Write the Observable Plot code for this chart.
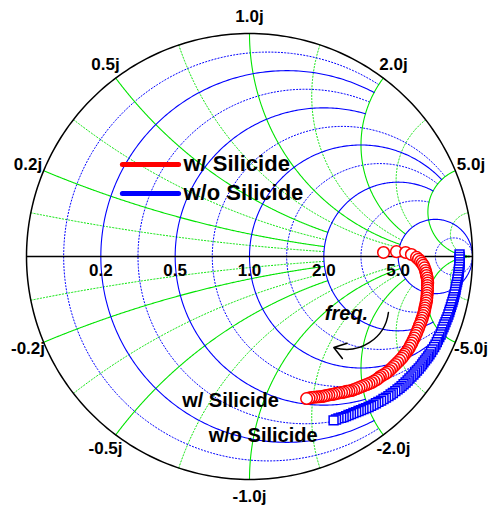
<!DOCTYPE html>
<html>
<head>
<meta charset="utf-8">
<script src="https://cdn.jsdelivr.net/npm/d3@7"></script>
<script src="https://cdn.jsdelivr.net/npm/@observablehq/plot@0.6"></script>
<style>
  html, body { margin: 0; padding: 0; background: #fff; }
  #chart svg { display: block; }
</style>
</head>
<body>
<div id="chart"></div>
<script>
// ---- Smith chart grid definitions ----
const rSolid = [0.2, 0.5, 1, 2, 5];
const rSolidStop = [2, 2, 5, 5, Infinity];           // |x| where the r-circle stops
const rDotted = [1/11, 1/3, 0.714, 1.4, 3, 11];
const rDottedStop = [2, 2, 5, 5, 5, Infinity];
const xSolid = [0.2, 0.5, 1, 2, 5];
const xSolidStop = [2, 2, 5, 5, Infinity];           // r where the x-arc stops
const xDotted = [0.099, 0.343, 0.72, 1.387, 2.92, 10.1];
const xDottedStop = [2, 2, 5, 5, 5, Infinity];

const rTickValues = [0.2, 0.5, 1, 2, 5];
const rTickLabels = ["0.2", "0.5", "1.0", "2.0", "5.0"];
const xTickValues = [0.2, 0.5, 1, 2, 5, -0.2, -0.5, -1, -2, -5];
const xTickLabels = ["0.2j", "0.5j", "1.0j", "2.0j", "5.0j", "-0.2j", "-0.5j", "-1.0j", "-2.0j", "-5.0j"];

// ---- Data: reflection coefficient (Re, Im) ----
const seriesNames = ["w/ Silicide", "w/o Silicide"];
const redRe = [0.601,0.659,0.700,0.726,
  0.749,0.758,0.767,0.774,0.780,0.785,0.789,0.792,0.794,0.797,0.798,0.799,0.798,0.798,0.798,0.797,0.796,0.795,0.794,0.792,
  0.789,0.787,0.785,0.782,0.778,0.775,0.771,0.767,0.762,0.758,0.753,0.749,0.744,0.739,0.733,0.728,0.722,0.716,0.709,0.702,
  0.695,0.689,0.682,0.673,0.664,0.655,0.646,0.637,0.628,0.619,0.610,0.598,0.587,0.579,0.570,0.558,0.547,0.536,0.525,0.513,
  0.502,0.491,0.480,0.468,0.457,0.446,0.435,0.424,0.413,0.401,0.390,0.379,0.368,0.356,0.345,0.334,0.323,0.311,0.300,0.289,
  0.278,0.267,0.256];
const redIm = [0.018,0.022,0.018,0.009,
  -0.004,-0.012,-0.022,-0.031,-0.040,-0.051,-0.063,-0.074,-0.085,-0.097,-0.108,-0.119,-0.130,-0.141,-0.152,-0.164,-0.175,-0.186,-0.197,-0.209,
  -0.220,-0.231,-0.242,-0.254,-0.265,-0.276,-0.287,-0.298,-0.309,-0.321,-0.332,-0.343,-0.354,-0.366,-0.377,-0.388,-0.399,-0.411,-0.422,-0.431,
  -0.439,-0.448,-0.457,-0.466,-0.475,-0.484,-0.493,-0.502,-0.511,-0.518,-0.525,-0.532,-0.538,-0.545,-0.552,-0.559,-0.565,-0.570,-0.574,-0.579,
  -0.583,-0.588,-0.592,-0.597,-0.601,-0.603,-0.605,-0.608,-0.610,-0.612,-0.614,-0.617,-0.619,-0.621,-0.623,-0.626,-0.628,-0.629,-0.630,-0.631,
  -0.632,-0.635,-0.637];
const blueRe = [0.942,0.942,0.942,0.942,0.942,0.941,0.939,0.938,0.937,0.935,0.933,0.931,0.928,0.926,0.924,0.922,0.919,0.916,0.913,0.910,
  0.906,0.903,0.899,0.896,0.892,0.888,0.883,0.879,0.874,0.870,0.865,0.861,0.857,0.851,0.845,0.840,0.834,0.828,0.821,0.814,
  0.807,0.801,0.794,0.787,0.780,0.774,0.767,0.759,0.751,0.743,0.735,0.726,0.717,0.709,0.700,0.691,0.682,0.673,0.664,0.654,
  0.643,0.633,0.623,0.612,0.601,0.590,0.578,0.567,0.556,0.545,0.534,0.523,0.511,0.500,0.489,0.478,0.466,0.455,0.444,0.433,
  0.422,0.411,0.399,0.388,0.377];
const blueIm = [0.009,-0.002,-0.013,-0.025,-0.036,-0.047,-0.058,-0.070,-0.081,-0.092,-0.103,-0.115,-0.126,-0.137,-0.148,-0.159,-0.170,-0.182,-0.193,-0.204,
  -0.215,-0.227,-0.238,-0.249,-0.260,-0.272,-0.283,-0.294,-0.305,-0.316,-0.327,-0.339,-0.350,-0.361,-0.372,-0.384,-0.395,-0.406,-0.417,-0.428,
  -0.439,-0.448,-0.457,-0.466,-0.475,-0.484,-0.493,-0.502,-0.511,-0.520,-0.529,-0.538,-0.547,-0.556,-0.565,-0.573,-0.581,-0.589,-0.596,-0.604,
  -0.612,-0.619,-0.626,-0.633,-0.639,-0.646,-0.652,-0.658,-0.664,-0.670,-0.675,-0.680,-0.684,-0.689,-0.693,-0.698,-0.702,-0.707,-0.711,-0.716,
  -0.720,-0.723,-0.726,-0.731,-0.735];

// ---- Annotations (anchored in reflection-coefficient units) ----
const notes = [
  {text: "w/ Silicide", re: -0.085, im: -0.646},
  {text: "w/o Silicide", re: 0.061, im: -0.803}
];
const freqNote = {text: "freq.", re: 0.435, im: -0.256};
const freqArrow = {re1: 0.623, im1: -0.251, re2: 0.378, im2: -0.408};
const legendItems = [
  {name: seriesNames[0], color: "#ff0000", re1: -0.570, re2: -0.318, im: 0.413, tre: -0.296},
  {name: seriesNames[1], color: "#0000ff", re1: -0.570, re2: -0.318, im: 0.283, tre: -0.296}
];

// ---- geometry helpers ----
function gamma(r, x) {
  const d = (r + 1) ** 2 + x * x;
  return [(r * r - 1 + x * x) / d, 2 * x / d];
}
function rArc(r, X, id) {
  const c = r / (1 + r), a = 1 / (1 + r);
  let phi = 0;
  if (isFinite(X)) { const g = gamma(r, X); phi = Math.atan2(g[1], g[0] - c); }
  const pts = [], N = 300;
  for (let i = 0; i <= N; i++) {
    const t = phi + (2 * Math.PI - 2 * phi) * i / N;
    pts.push({gx: c + a * Math.cos(t), gy: a * Math.sin(t), id});
  }
  return pts;
}
function xArc(x, R, id) {
  const cy = 1 / x, a = Math.abs(1 / x);
  const g0 = gamma(0, x);
  const g1 = isFinite(R) ? gamma(R, x) : [1, 0];
  let a0 = Math.atan2(g0[1] - cy, g0[0] - 1), a1 = Math.atan2(g1[1] - cy, g1[0] - 1);
  while (a1 - a0 > Math.PI) a1 -= 2 * Math.PI;
  while (a1 - a0 < -Math.PI) a1 += 2 * Math.PI;
  const pts = [], N = 300;
  for (let i = 0; i <= N; i++) {
    const t = a0 + (a1 - a0) * i / N;
    pts.push({gx: 1 + a * Math.cos(t), gy: cy + a * Math.sin(t), id});
  }
  return pts;
}

const rSolidPts = rSolid.flatMap((r, i) => rArc(r, rSolidStop[i], "rs" + i));
const rDottedPts = rDotted.flatMap((r, i) => rArc(r, rDottedStop[i], "rd" + i));
const xSolidPts = xSolid.flatMap((x, i) => [...xArc(x, xSolidStop[i], "xs" + i), ...xArc(-x, xSolidStop[i], "xsn" + i)]);
const xDottedPts = xDotted.flatMap((x, i) => [...xArc(x, xDottedStop[i], "xd" + i), ...xArc(-x, xDottedStop[i], "xdn" + i)]);
const outer = rArc(0, Infinity, "outer");

const rTicks = rTickValues.map((r, i) => ({gx: (r - 1) / (r + 1), gy: 0, label: rTickLabels[i]}));
const labelRadius = 1.076;
const xTicks = xTickValues.map((x, i) => {
  const th = Math.sign(x) * (Math.PI - 2 * Math.atan(Math.abs(x)));
  return {gx: labelRadius * Math.cos(th), gy: labelRadius * Math.sin(th), label: xTickLabels[i]};
});

const redData = redRe.map((v, i) => ({re: v, im: redIm[i]}));
const blueData = blueRe.map((v, i) => ({re: v, im: blueIm[i]}));

const FONT = "Arial, 'Liberation Sans', Helvetica, sans-serif";
const GREEN = "#00e400";

const chart = Plot.plot({
  width: 491,
  height: 506,
  marginLeft: 26,
  marginRight: 19,
  marginTop: 33,
  marginBottom: 27,
  x: {domain: [-1, 1], axis: null},
  y: {domain: [-1, 1], axis: null},
  style: {background: "white", fontFamily: FONT},
  marks: [
    Plot.line(xDottedPts, {x: "gx", y: "gy", z: "id", stroke: GREEN, strokeWidth: 1, strokeDasharray: "1.2,2"}),
    Plot.line(rDottedPts, {x: "gx", y: "gy", z: "id", stroke: "#0000ff", strokeWidth: 1, strokeDasharray: "1.2,2"}),
    Plot.line(xSolidPts, {x: "gx", y: "gy", z: "id", stroke: GREEN, strokeWidth: 1.1}),
    Plot.line(rSolidPts, {x: "gx", y: "gy", z: "id", stroke: "#0000ff", strokeWidth: 1.1}),
    Plot.line(outer, {x: "gx", y: "gy", stroke: "black", strokeWidth: 1.5}),
    Plot.ruleY([0], {x1: -1, x2: 1, stroke: "black", strokeWidth: 1.5}),
    Plot.text(rTicks, {x: "gx", y: "gy", text: "label", dy: 14, fontSize: 17, fontWeight: "bold", fill: "black", textAnchor: "middle", lineAnchor: "middle"}),
    Plot.text(xTicks, {x: "gx", y: "gy", text: "label", fontSize: 17, fontWeight: "bold", fill: "black", textAnchor: "middle", lineAnchor: "middle"}),
    // data
    Plot.dot(redData, {x: "re", y: "im", r: 5.8, stroke: "#ff0000", strokeWidth: 1.5, fill: "white"}),
    Plot.dot(blueData, {x: "re", y: "im", r: 5, symbol: "square", stroke: "#0000ff", strokeWidth: 1.5, fill: "white"}),
    // annotations
    Plot.text(notes, {x: "re", y: "im", text: "text", fontSize: 20, fontWeight: "bold", fill: "black", textAnchor: "middle", lineAnchor: "middle"}),
    Plot.text([freqNote], {x: "re", y: "im", text: "text", fontSize: 20, fontWeight: "bold", fontStyle: "italic", fill: "black", textAnchor: "middle", lineAnchor: "middle"}),
    Plot.arrow([freqArrow], {x1: "re1", y1: "im1", x2: "re2", y2: "im2", bend: 50, headLength: 14, headAngle: 70, stroke: "black", strokeWidth: 1.5}),
    // legend
    Plot.link(legendItems, {x1: "re1", x2: "re2", y1: "im", y2: "im", stroke: "color", strokeWidth: 5, strokeLinecap: "round"}),
    Plot.text(legendItems, {x: "tre", y: "im", text: "name", fontSize: 22, fontWeight: "bold", fill: "black", textAnchor: "start", lineAnchor: "middle"})
  ]
});
document.getElementById("chart").appendChild(chart);
</script>
</body>
</html>
